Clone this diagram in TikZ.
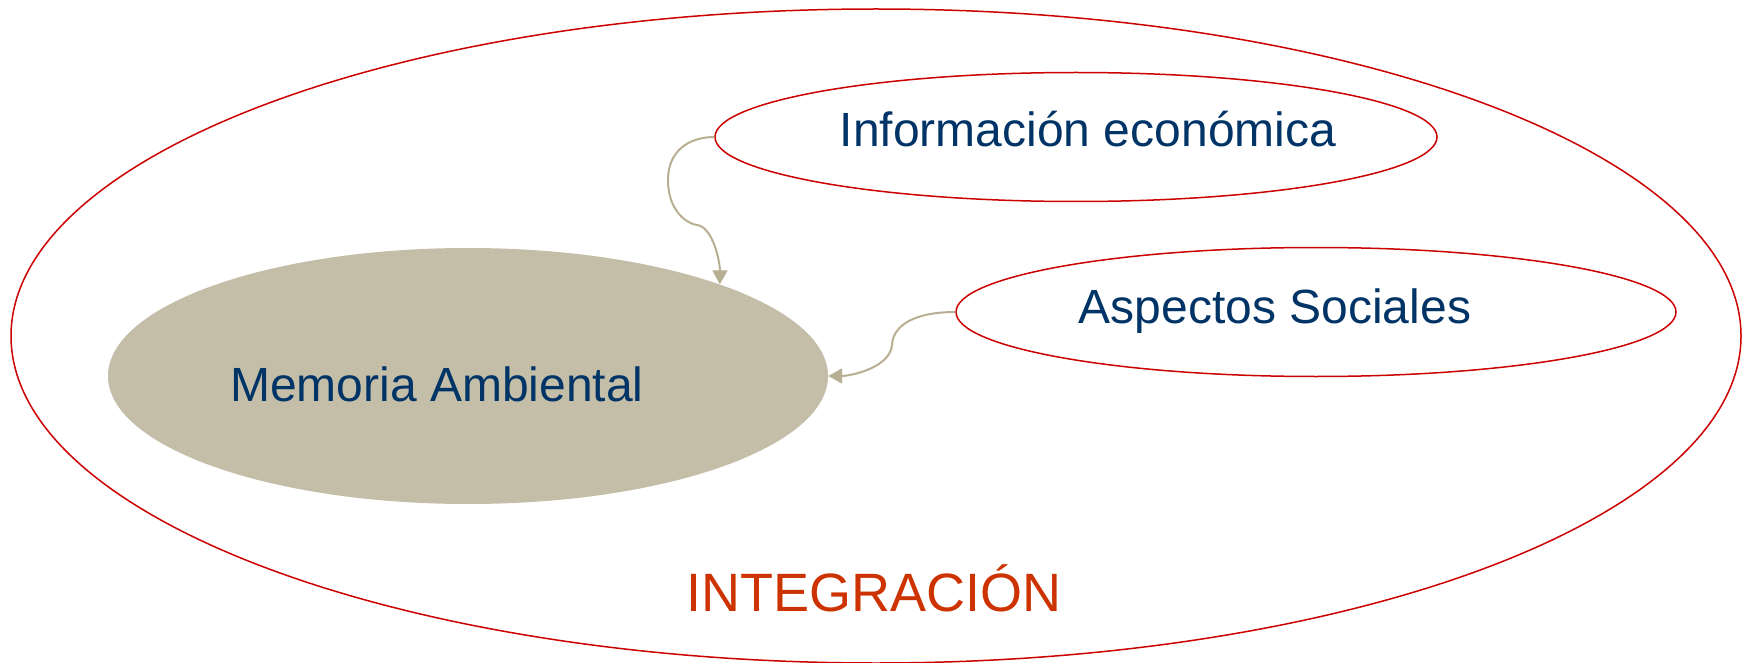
\documentclass[tikz,border=0pt]{standalone}
\usepackage{fontspec}
\setmainfont{Liberation Sans}
\usetikzlibrary{shapes.geometric,arrows.meta}
\definecolor{ringred}{RGB}{204,0,0}
\definecolor{txtblue}{RGB}{0,51,102}
\definecolor{taupe}{RGB}{196,189,167}
\definecolor{linktaupe}{RGB}{184,174,145}
\definecolor{intred}{RGB}{204,51,0}
\begin{document}
\begin{tikzpicture}[x=1pt,y=-1pt,
  ring/.style={ellipse, draw=ringred, line width=1.5pt, inner sep=0pt},
  memfill/.style={ellipse, fill=taupe, draw=none, inner sep=0pt},
  bluetext/.style={anchor=base, inner sep=0pt, text=txtblue, font=\fontsize{48}{56}\selectfont},
  inttext/.style={anchor=base, inner sep=0pt, text=intred, font=\fontsize{54}{62}\selectfont},
  link/.style={draw=linktaupe, line width=2pt, -{Triangle[width=15pt,length=14pt]}}]
\useasboundingbox (0,0) rectangle (1743,663);
\node[ring, minimum width=1730pt, minimum height=654pt] (outer) at (876,336) {};
\node[memfill, minimum width=720pt, minimum height=256pt] (mem) at (468,376) {};
\node[ring, minimum width=722pt, minimum height=129pt] (inf) at (1076,137) {};
\node[ring, minimum width=720pt, minimum height=129pt] (asp) at (1316,312) {};
\node[bluetext] (memt) at (437,401) {Memoria Ambiental};
\node[bluetext] (inft) at (1088,147) {Información económica};
\node[bluetext] (aspt) at (1275,323) {Aspectos Sociales};
\node[inttext] (intt) at (874,611) {INTEGRACIÓN};
\draw[link] (inf.west) .. controls (690,137) and (668,150) .. (668,180)
  .. controls (668,212) and (688,224) .. (697,225)
  .. controls (713,227) and (720,262) .. (mem.20);
\draw[link] (asp.west) .. controls (915,312) and (893,325) .. (892,345)
  .. controls (890,368) and (850,376) .. (mem.east);
\end{tikzpicture}
\end{document}
